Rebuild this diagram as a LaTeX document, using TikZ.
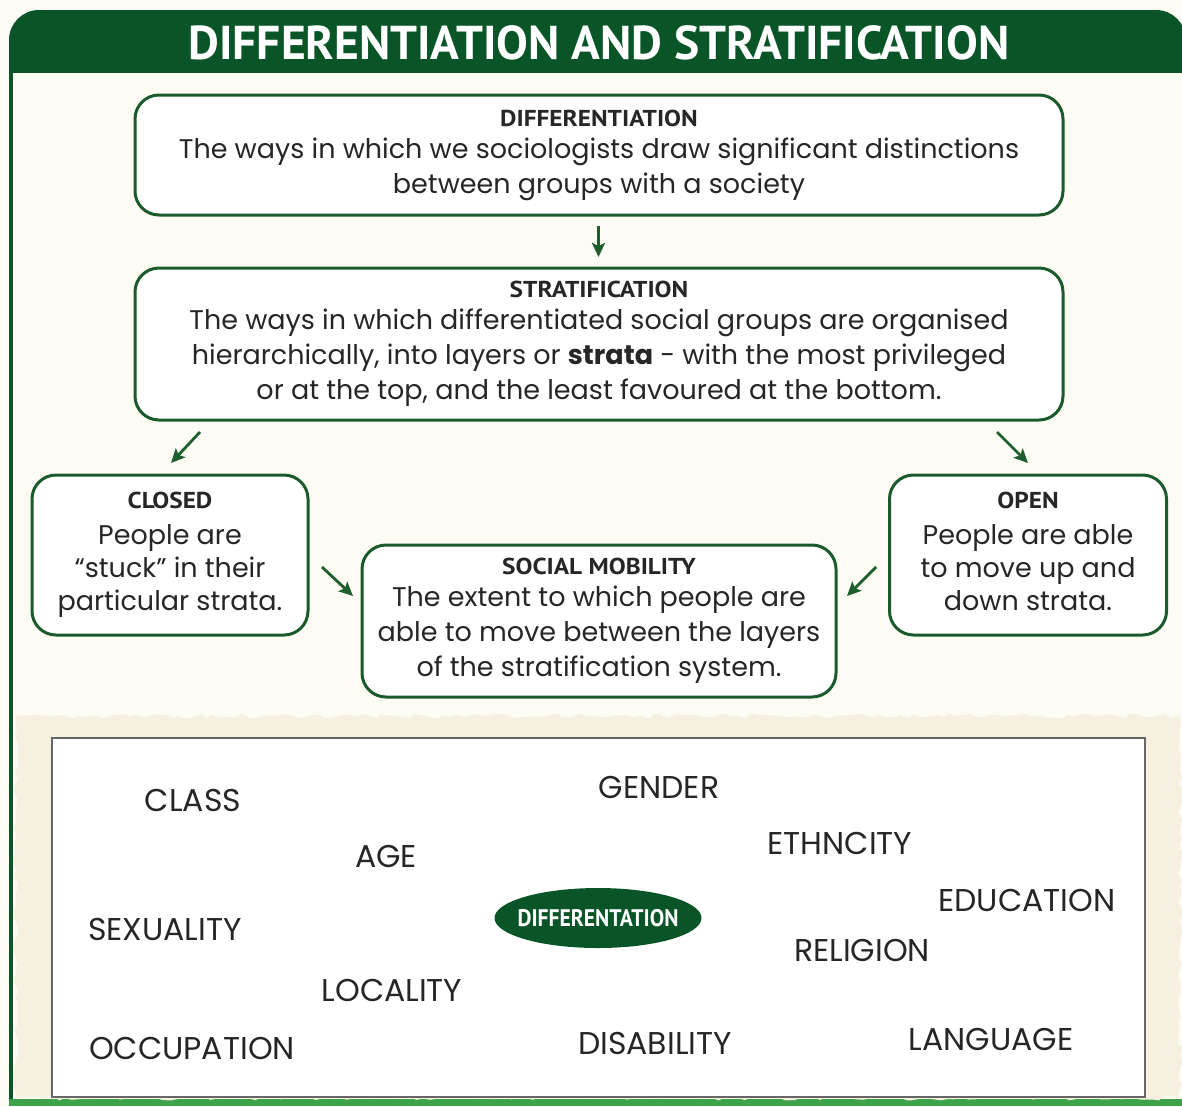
\documentclass[tikz,border=0pt]{standalone}
\usepackage{fontspec}
\setmainfont{Poppins}
\newfontfamily\headfont[FakeStretch=1.1]{PT Sans}
\newfontfamily\titlefont{PT Sans}
\newfontfamily\narrowfont[FakeStretch=0.9]{PT Sans}
\usetikzlibrary{arrows.meta,decorations.pathmorphing,shapes.geometric}
\definecolor{dkgreen}{HTML}{0A5528}
\definecolor{boxgreen}{HTML}{1B5A2C}
\definecolor{arrgreen}{HTML}{1D5E2C}
\definecolor{cream}{HTML}{FDFCF4}
\definecolor{beige}{HTML}{F5F0DF}
\definecolor{brgreen}{HTML}{3DA34A}
\definecolor{txt}{HTML}{262626}
\tikzset{
  box/.style={draw=boxgreen, line width=3pt, rounded corners=24pt, fill=white,
    align=center, inner sep=0pt, text=txt},
  boxtext/.style={font=\fontsize{27}{35}\selectfont},
  smalltext/.style={font=\fontsize{27}{33}\selectfont},
  arr/.style={draw=arrgreen, line width=2.8pt, -{Stealth[length=14pt,width=13pt,inset=3pt]}},
  word/.style={text=txt, font=\fontsize{31.5}{32}\selectfont, inner sep=0pt},
}
\newcommand{\hd}[1]{{\headfont\bfseries\fontsize{23}{23}\selectfont #1}}
\begin{document}
\begin{tikzpicture}[x=1pt,y=-1pt]
\useasboundingbox (0,0) rectangle (1182,1106);
% background
\fill[cream] (0,0) rectangle (1182,1106);
% header bar
\fill[dkgreen, rounded corners=30pt] (9,10) rectangle (1186,120);
\fill[cream] (13,73) rectangle (1186,125);
\fill[dkgreen] (9,73) rectangle (13,1100);
\fill[brgreen] (9,1099) rectangle (1182,1106);
\node[text=white, font=\titlefont\bfseries\fontsize{47.5}{48}\selectfont, inner sep=0pt] (title) at (599,43) {DIFFERENTIATION AND STRATIFICATION};

% boxes
\node[box, boxtext, minimum width=928, minimum height=120] (dif) at (599,155)
  {\hd{DIFFERENTIATION}\\[-3pt]
   The ways in which we sociologists draw significant distinctions\\
   between groups with a society};
\node[box, boxtext, minimum width=928, minimum height=152] (strat) at (599,344)
  {\hd{STRATIFICATION}\\[-3pt]
   The ways in which differentiated social groups are organised\\
   hierarchically, into layers or \textbf{strata} - with the most privileged\\
   or at the top, and the least favoured at the bottom.};
\node[box, smalltext, minimum width=276, minimum height=160] (closed) at (170,555)
  {\hd{CLOSED}\\[3pt]
   People are\\ “stuck” in their\\ particular strata.};
\node[box, smalltext, minimum width=277, minimum height=160] (open) at (1028,555)
  {\hd{OPEN}\\[3pt]
   People are able\\ to move up and\\ down strata.\vphantom{p}};
\node[box, boxtext, minimum width=474, minimum height=152] (mob) at (599,621)
  {\hd{SOCIAL MOBILITY}\\[-3pt]
   The extent to which people are\\ able to move between the layers\\ of the stratification system.};

% arrows
\coordinate (a0s) at (598.5,226); \coordinate (a0e) at (598.5,257);
\coordinate (a1s) at (200,432); \coordinate (a1e) at (171,463);
\coordinate (a2s) at (997,432); \coordinate (a2e) at (1028,463);
\coordinate (a3s) at (322,567); \coordinate (a3e) at (353,596);
\coordinate (a4s) at (876,567); \coordinate (a4e) at (847,596);
\draw[arr, line width=3.2pt] (a0s) -- (a0e);
\draw[arr] (a1s) -- (a1e);
\draw[arr] (a2s) -- (a2e);
\draw[arr] (a3s) -- (a3e);
\draw[arr] (a4s) -- (a4e);

% bottom textured panel
\fill[beige, decorate, decoration={random steps, segment length=7pt, amplitude=2.5pt}]
  (16,716) rectangle (1180,1098);
\node[draw=black!60, line width=2pt, fill=white, minimum width=1093, minimum height=359, inner sep=0pt] (panel) at (598.5,917.5) {};

\node[word] (class) at (193,800) {CLASS};
\node[word] (gender) at (659,787) {GENDER};
\node[word] (age) at (386,856) {AGE};
\node[word] (ethn) at (840,843) {ETHNCITY};
\node[word] (edu) at (1027,900) {EDUCATION};
\node[word] (sex) at (165,929) {SEXUALITY};
\node[word] (rel) at (862,950) {RELIGION};
\node[word] (loc) at (392,990) {LOCALITY};
\node[word] (occ) at (192,1048) {OCCUPATION};
\node[word] (dis) at (655,1043) {DISABILITY};
\node[word] (lang) at (991,1039) {LANGUAGE};
\node[ellipse, fill=dkgreen, minimum width=207, minimum height=60, inner xsep=-20pt, inner ysep=-4pt,
  text=white, font=\narrowfont\bfseries\fontsize{24}{24}\selectfont] (ell) at (598,918) {DIFFERENTATION};
\end{tikzpicture}
\end{document}
